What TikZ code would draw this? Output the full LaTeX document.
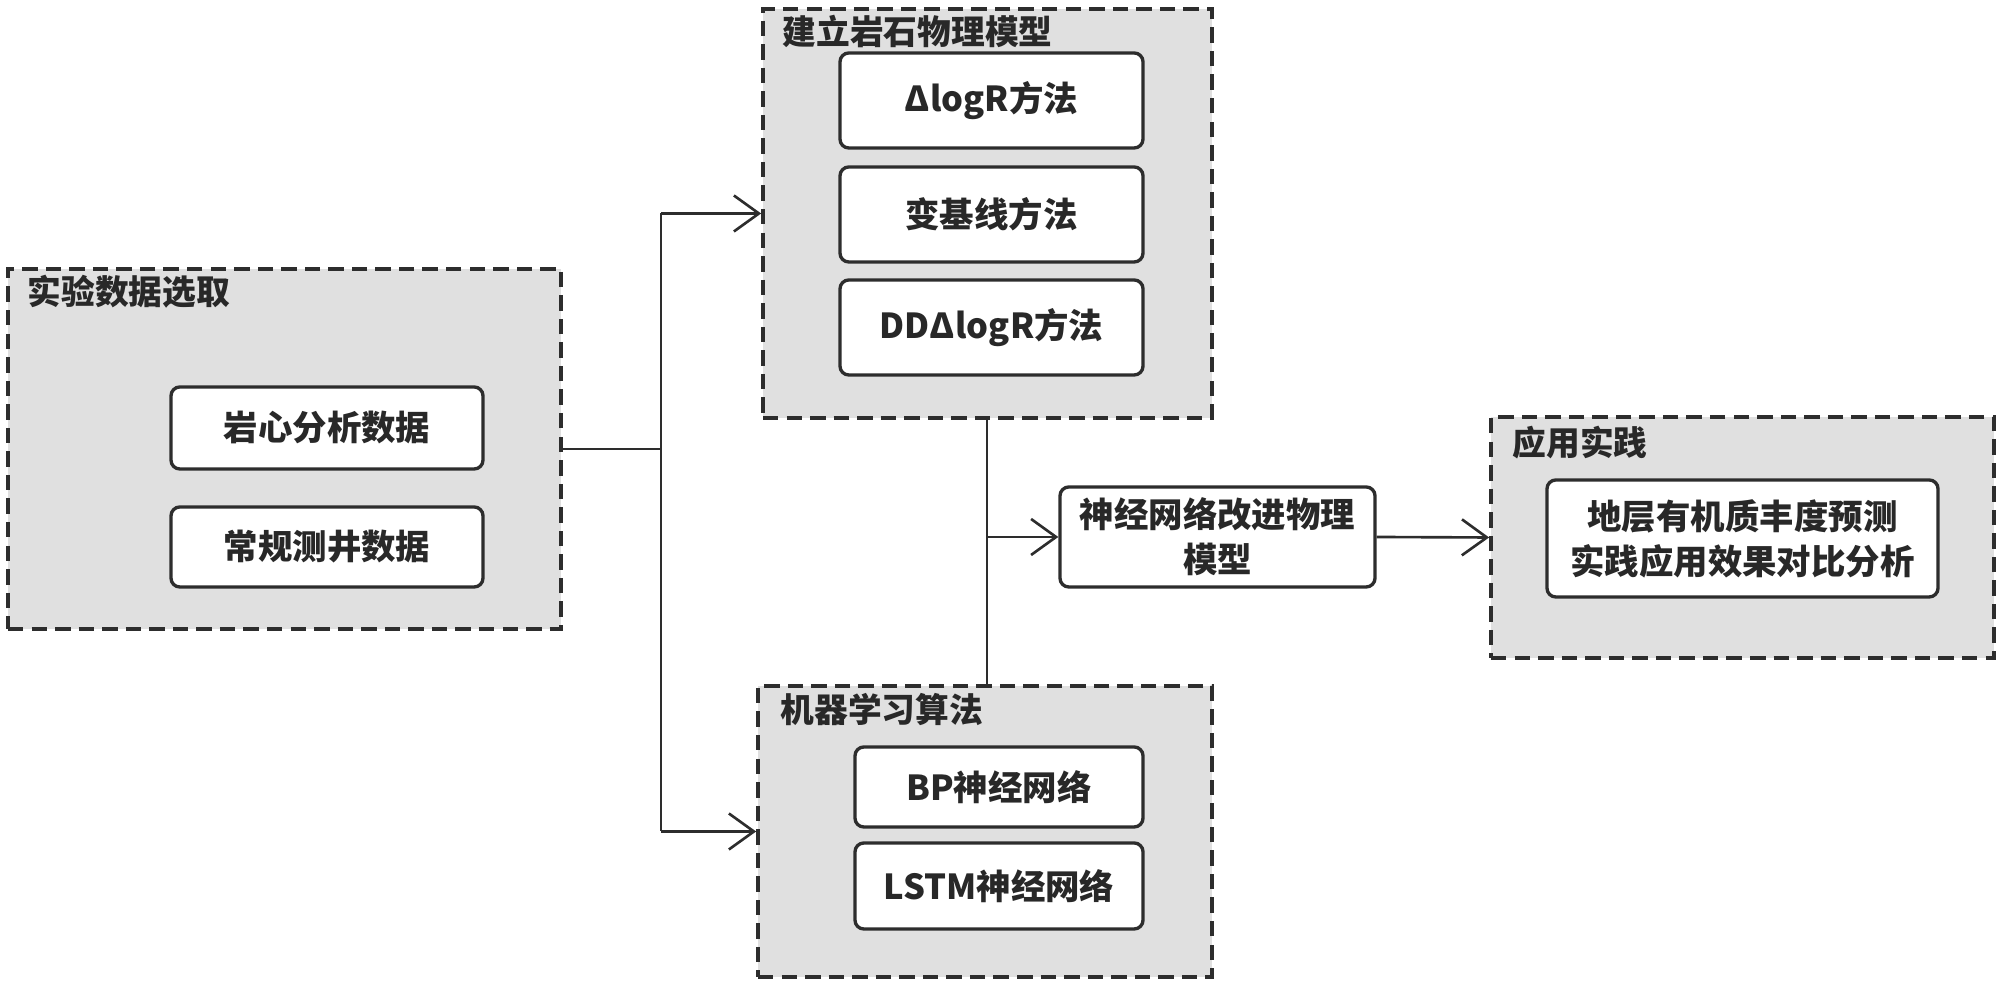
\documentclass[tikz,border=0pt]{standalone}
\usepackage{fontspec}
\setmainfont{Noto Sans CJK SC}
\usepackage{tikz}
\usetikzlibrary{arrows.meta,positioning,calc}
\definecolor{flowink}{RGB}{45,45,45}
\definecolor{flowtext}{RGB}{40,40,40}
\definecolor{flowfill}{RGB}{224,224,224}

\begin{document}
\begin{tikzpicture}[
    grpbox/.style={draw=flowink, fill=flowfill, line width=1.05pt, dash pattern=on 4.4pt off 2.3pt, minimum width=#1},
    grpbox/.default=4cm,
    grptitle/.style={anchor=west, inner sep=0pt, font=\fontsize{9.6pt}{12pt}\selectfont\bfseries, text=flowtext},
    itembox/.style={draw=flowink, fill=white, line width=0.95pt, rounded corners=2.5pt, align=center, inner sep=0pt, font=\fontsize{9.8pt}{12.8pt}\selectfont\bfseries, text=flowtext},
    link/.style={draw=flowink, line width=0.75pt},
    flowarrow/.style={link, -{Straight Barb[length=0.25cm, width=0.36cm, line width=0.75pt]}}
  ]
  \useasboundingbox (0,0) rectangle (20,9.85);

  %--- Experimental data ---
  \node[grpbox=5.53cm, minimum height=3.60cm] (g1) at (2.845,5.36) {};
  \node[grptitle] (g1t) at (0.27,6.93) {实验数据选取};
  \node[itembox, minimum width=3.12cm, minimum height=0.82cm] (core) at (3.27,5.57) {岩心分析数据};
  \node[itembox, minimum width=3.12cm, minimum height=0.80cm] (logs) at (3.27,4.38) {常规测井数据};

  %--- Petrophysical models ---
  \node[grpbox=4.49cm, minimum height=4.09cm] (g2) at (9.875,7.715) {};
  \node[grptitle] (g2t) at (7.82,9.54) {建立岩石物理模型};
  \node[itembox, minimum width=3.03cm, minimum height=0.95cm] (dlogr) at (9.915,8.845) {ΔlogR方法};
  \node[itembox, minimum width=3.03cm, minimum height=0.95cm] (varbase) at (9.915,7.705) {变基线方法};
  \node[itembox, minimum width=3.03cm, minimum height=0.95cm] (dddlogr) at (9.915,6.575) {DDΔlogR方法};

  %--- Machine learning ---
  \node[grpbox=4.54cm, minimum height=2.91cm] (g3) at (9.85,1.535) {};
  \node[grptitle] (g3t) at (7.80,2.75) {机器学习算法};
  \node[itembox, minimum width=2.88cm, minimum height=0.80cm] (bpnet) at (9.99,1.98) {BP神经网络};
  \node[itembox, minimum width=2.88cm, minimum height=0.86cm] (lstmnet) at (9.99,0.99) {LSTM神经网络};

  %--- Improved model ---
  \node[itembox, minimum width=3.15cm, minimum height=1.00cm] (improved) at (12.175,4.48) {神经网络改进物理\\模型};

  %--- Application ---
  \node[grpbox=5.03cm, minimum height=2.41cm] (g4) at (17.425,4.475) {};
  \node[grptitle] (g4t) at (15.12,5.42) {应用实践};
  \node[itembox, minimum width=3.91cm, minimum height=1.17cm] (predict) at (17.425,4.465) {地层有机质丰度预测\\实践应用效果对比分析};

  % Connectors
  \coordinate (jA) at (6.61,5.36);
  \coordinate (jB) at (9.87,4.48);
  \draw[link] (g1.east) -- (jA);
  \draw[link] (jA |- g2.west) -- (jA |- g3.west);
  \draw[flowarrow] (jA |- g2.west) -- (g2.west);
  \draw[flowarrow] (jA |- g3.west) -- (g3.west);
  \draw[link] (jB |- g2.south) -- (jB |- g3.north);
  \draw[flowarrow] (jB) -- (improved.west);
  \draw[flowarrow] (improved.east) -- (g4.west);
\end{tikzpicture}
\end{document}
